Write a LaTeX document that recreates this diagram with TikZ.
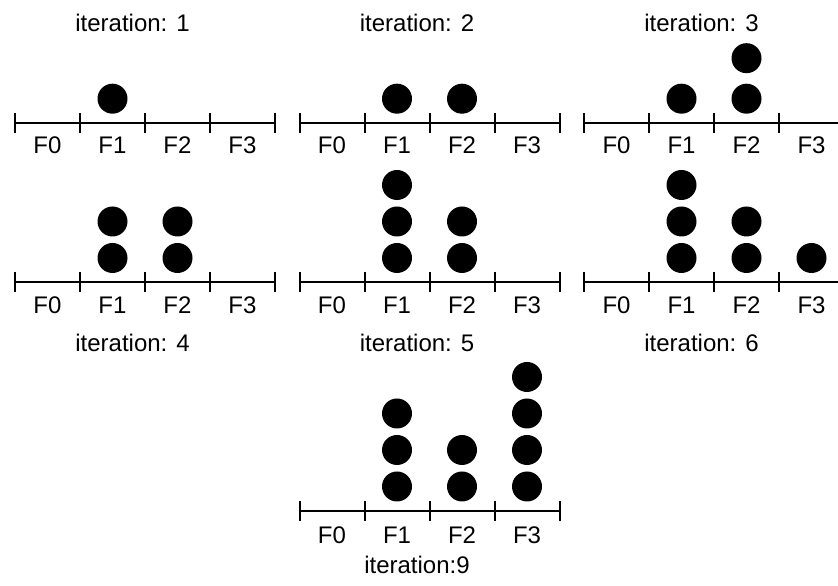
\documentclass[tikz,border=0pt]{standalone}
\usepackage{fontspec}
\setmainfont{Liberation Sans}
\tikzset{
  axisline/.style={line width=2pt, black},
  dot/.style={circle, fill=black, inner sep=0pt, minimum size=30pt},
  lbl/.style={anchor=base, inner sep=0pt, font=\fontsize{24}{28}\selectfont},
}
\begin{document}
\begin{tikzpicture}[x=1pt,y=1pt]
\useasboundingbox (0,0) rectangle (838,586);
% Row 1 (axis y = 586-122.7)
\foreach \px/\nm/\it in {15/a/1, 299.5/b/2, 584/c/3}{
  \begin{scope}[shift={(\px,463.3)}]
    \draw[axisline] (0,0) -- (260,0);
    \foreach \t in {0,1,2,3,4} \draw[axisline] (65*\t,-10) -- (65*\t,10);
    \foreach \k in {0,1,2,3} \node[lbl] (\nm l\k) at (32.5+65*\k,-31.3) {F\k};
    \node[lbl] (\nm t) at (117.5,91) {iteration: \it};
  \end{scope}
}
% Row 2 (axis y = 586-282)
\foreach \px/\nm/\it in {15/d/4, 299.5/e/5, 584/f/6}{
  \begin{scope}[shift={(\px,304)}]
    \draw[axisline] (0,0) -- (260,0);
    \foreach \t in {0,1,2,3,4} \draw[axisline] (65*\t,-10) -- (65*\t,10);
    \foreach \k in {0,1,2,3} \node[lbl] (\nm l\k) at (32.5+65*\k,-31.3) {F\k};
    \node[lbl] (\nm t) at (117.5,-69.5) {iteration: \it};
  \end{scope}
}
% Row 3 (axis y = 586-511)
\begin{scope}[shift={(299.5,75)}]
  \draw[axisline] (0,0) -- (260,0);
  \foreach \t in {0,1,2,3,4} \draw[axisline] (65*\t,-10) -- (65*\t,10);
  \foreach \k in {0,1,2,3} \node[lbl] (gl\k) at (32.5+65*\k,-32.3) {F\k};
  \node[lbl] (gt) at (117.5,-62.5) {iteration:9};
\end{scope}
% ---------- Dots ----------
% panel 1
\node[dot] (a1) at (15+97.5,463.3+24) {};
% panel 2
\node[dot] (b1) at (299.5+97.5,463.3+24) {};
\node[dot] (b2) at (299.5+162.5,463.3+24) {};
% panel 3
\node[dot] (c1) at (584+97.5,463.3+24) {};
\node[dot] (c2) at (584+162.5,463.3+24) {};
\node[dot] (c3) at (584+162.5,463.3+64.5) {};
% panel 4
\node[dot] (d1) at (15+97.5,304+24) {};
\node[dot] (d2) at (15+97.5,304+60.5) {};
\node[dot] (d3) at (15+162.5,304+24) {};
\node[dot] (d4) at (15+162.5,304+60.5) {};
% panel 5
\node[dot] (e1) at (299.5+97.5,304+24) {};
\node[dot] (e2) at (299.5+97.5,304+60.5) {};
\node[dot] (e3) at (299.5+97.5,304+97) {};
\node[dot] (e4) at (299.5+162.5,304+24) {};
\node[dot] (e5) at (299.5+162.5,304+60.5) {};
% panel 6
\node[dot] (f1) at (584+97.5,304+24) {};
\node[dot] (f2) at (584+97.5,304+60.5) {};
\node[dot] (f3) at (584+97.5,304+97) {};
\node[dot] (f4) at (584+162.5,304+24) {};
\node[dot] (f5) at (584+162.5,304+60.5) {};
\node[dot] (f6) at (584+227.5,304+24) {};
% panel 9
\node[dot] (g1) at (299.5+97.5,75+24.5) {};
\node[dot] (g2) at (299.5+97.5,75+61) {};
\node[dot] (g3) at (299.5+97.5,75+97.5) {};
\node[dot] (g4) at (299.5+162.5,75+24.5) {};
\node[dot] (g5) at (299.5+162.5,75+61) {};
\node[dot] (g6) at (299.5+227.5,75+24.5) {};
\node[dot] (g7) at (299.5+227.5,75+61) {};
\node[dot] (g8) at (299.5+227.5,75+97.5) {};
\node[dot] (g9) at (299.5+227.5,75+134) {};
\end{tikzpicture}
\end{document}
